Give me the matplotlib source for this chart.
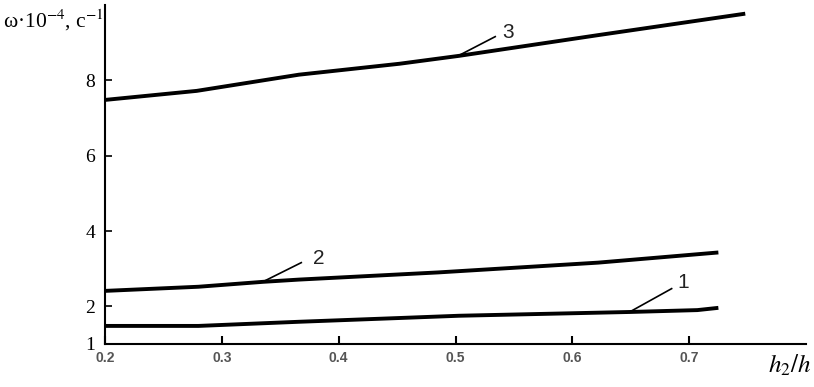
import matplotlib
matplotlib.use("Agg")
import matplotlib.pyplot as plt

plt.rcParams['mathtext.fontset'] = 'stix'

# Data
x1 = [0.20, 0.28, 0.366, 0.452, 0.503, 0.649, 0.707, 0.725]
y1 = [1.48, 1.48, 1.59, 1.69, 1.75, 1.85, 1.90, 1.96]
x2 = [0.20, 0.28, 0.335, 0.366, 0.485, 0.622, 0.725]
y2 = [2.41, 2.52, 2.65, 2.71, 2.90, 3.16, 3.43]
x3 = [0.20, 0.2785, 0.366, 0.452, 0.503, 0.622, 0.748]
y3 = [7.48, 7.72, 8.15, 8.44, 8.65, 9.20, 9.77]

xticks = [0.2, 0.3, 0.4, 0.5, 0.6, 0.7]
xtick_labels = ['0.2', '0.3', '0.4', '0.5', '0.6', '0.7']
yticks = [1, 2, 4, 6, 8]
ytick_labels = ['1', '2', '4', '6', '8']

# annotation: (label, point on curve, end of leader, text position)
labels = ['1', '2', '3']
lead_from = [(0.649, 1.85), (0.335, 2.65), (0.501, 8.63)]
lead_to = [(0.685, 2.47), (0.368, 3.16), (0.534, 9.16)]
text_pos = [(0.695, 2.62), (0.383, 3.26), (0.545, 9.28)]

fig = plt.figure(figsize=(8.14, 3.87), dpi=100)
ax = fig.add_axes([105/814, 1-344/387, (806-105)/814, (344-5)/387])

for xs, ys in [(x1, y1), (x2, y2), (x3, y3)]:
    ax.plot(xs, ys, color='black', lw=2.8, solid_capstyle='butt')

for lab, p0, p1, tp in zip(labels, lead_from, lead_to, text_pos):
    ax.plot([p0[0], p1[0]], [p0[1], p1[1]], color='black', lw=1.2)
    ax.text(tp[0], tp[1], lab, fontsize=15, family='Liberation Sans',
            ha='center', va='center', color='#222222')

ax.set_xlim(0.2, 0.8)
ax.set_ylim(1, 10)
for s in ['top', 'right']:
    ax.spines[s].set_visible(False)
for s in ['left', 'bottom']:
    ax.spines[s].set_linewidth(1.5)

ax.set_xticks(xticks)
ax.set_xticklabels(xtick_labels, family='Liberation Sans', fontsize=10,
                   fontweight='bold', color='#555555')
ax.set_yticks(yticks)
ax.set_yticklabels(ytick_labels, family='Liberation Serif', fontsize=14)
ax.tick_params(axis='x', direction='in', length=6, width=1.5, pad=5)
ax.tick_params(axis='y', direction='in', length=5, width=1.2, pad=7)

fig.text(3/814, 1-28/387, r'ω·10$^{-4}$, c$^{-1}$', family='Liberation Serif',
         fontsize=15.5, ha='left', va='baseline')
fig.text(811/814, 1-373/387, r'$h_2/h$', fontsize=18, ha='right', va='baseline')

fig.savefig('out.png', dpi=100)
